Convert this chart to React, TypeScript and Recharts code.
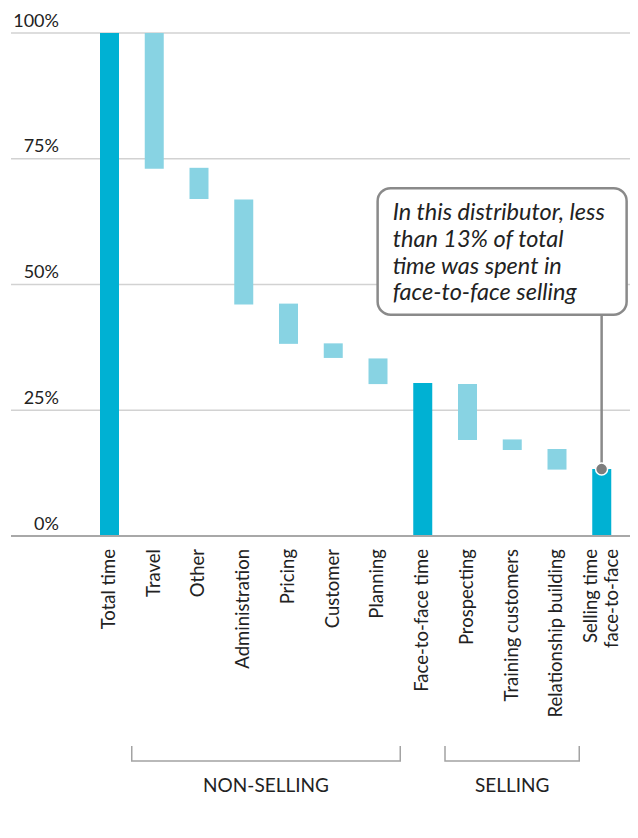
import {
  BarChart,
  Bar,
  XAxis,
  YAxis,
  CartesianGrid,
  Cell,
  ReferenceLine,
  ReferenceDot,
} from "recharts";

// waterfall: each bar runs from low to high (% of total time)
const categories = [
  "Total time",
  "Travel",
  "Other",
  "Administration",
  "Pricing",
  "Customer",
  "Planning",
  "Face-to-face time",
  "Prospecting",
  "Training customers",
  "Relationship building",
  "Selling time\nface-to-face",
];
const lows = [0, 73, 67, 46, 38.2, 35.4, 30.2, 0, 19.1, 17.1, 13.2, 0];
const highs = [100, 100, 73.2, 66.9, 46.2, 38.3, 35.3, 30.4, 30.2, 19.2, 17.3, 13.3];
const isTotal = [true, false, false, false, false, false, false, true, false, false, false, true];
const yTicks = [0, 25, 50, 75, 100];

const groups = [
  { label: "NON-SELLING", first: 1, count: 6 },
  { label: "SELLING", first: 8, count: 3 },
];

const calloutLines = [
  "In this distributor, less",
  "than 13% of total",
  "time was spent in",
  "face-to-face selling",
];
const calloutTop = 44; // % level where the leader line meets the box

const data = categories.map((name, i) => ({
  name,
  range: [lows[i], highs[i]],
}));

const W = 630;
const H = 830;
const MARGIN = { top: 25, right: 0, bottom: 12, left: 0 };
const Y_W = 3;
const PAD = { left: 76, right: 14 };
const BAND =
  (W - Y_W - MARGIN.left - MARGIN.right - PAD.left - PAD.right) / categories.length;

const DARK = "#00b1d3";
const LIGHT = "#88d3e3";
const TEXT = "#222";
const FONT = "Lato, 'Open Sans', sans-serif";

function XTick(props: any) {
  const { x, y, payload, index } = props;
  const lines = String(payload.value).split("\n");
  const offsets = lines.length === 1 ? [5.5] : [-4.5, 16];
  const group = groups.find((g) => g.first === index);
  return (
    <g>
      <g transform={`translate(${x},${y})`}>
        <text
          transform="rotate(-90)"
          textAnchor="end"
          fill={TEXT}
          fontSize={18.5}
          fontFamily={FONT}
        >
          {lines.map((l, i) => (
            <tspan key={i} x={0} y={offsets[i]}>
              {l}
            </tspan>
          ))}
        </text>
      </g>
      {group && (
        <g>
          <path
            d={`M${x - BAND / 2},${y + 197} V${y + 212} H${
              x - BAND / 2 + group.count * BAND
            } V${y + 197}`}
            fill="none"
            stroke="#a3a3a3"
            strokeWidth={1.5}
          />
          <text
            x={x - BAND / 2 + (group.count * BAND) / 2}
            y={y + 243}
            textAnchor="middle"
            fill={TEXT}
            fontSize={19}
            fontFamily={FONT}
          >
            {group.label}
          </text>
        </g>
      )}
    </g>
  );
}

function YTick(props: any) {
  const { y, payload } = props;
  return (
    <text
      x={51}
      y={y - 6.5}
      textAnchor="end"
      fill={TEXT}
      fontSize={18}
      fontFamily={FONT}
    >
      {payload.value}%
    </text>
  );
}

function CalloutBox(props: any) {
  const { cx, cy } = props;
  return (
    <g>
      <rect
        x={cx - 224}
        y={cy - 126.5}
        width={249}
        height={126.5}
        rx={13}
        ry={13}
        fill="#fff"
        stroke="#8a8a8a"
        strokeWidth={2.5}
      />
      <text
        fill={TEXT}
        fontSize={23.5}
        fontStyle="italic"
        fontFamily={FONT}
      >
        {calloutLines.map((l, i) => (
          <tspan key={i} x={cx - 209} y={cy - 94.5 + i * 26.7}>
            {l}
          </tspan>
        ))}
      </text>
    </g>
  );
}

export default function App() {
  const last = categories[categories.length - 1];
  return (
    <div style={{ width: W, height: H, fontFamily: FONT }}>
      <BarChart width={W} height={H} data={data} margin={MARGIN} barSize={19}>
        <CartesianGrid
          vertical={false}
          stroke="#d2d2d2"
          strokeWidth={1.3}
        />
        <XAxis
          dataKey="name"
          interval={0}
          padding={PAD}
          height={290}
          tickLine={false}
          tickSize={0}
          tickMargin={13}
          axisLine={{ stroke: "#a8a8a8", strokeWidth: 2 }}
          tick={<XTick />}
        />
        <YAxis
          width={Y_W}
          domain={[0, 100]}
          ticks={yTicks}
          axisLine={false}
          tickLine={false}
          tick={<YTick />}
        />
        <Bar dataKey="range" isAnimationActive={false}>
          {data.map((d, i) => (
            <Cell key={d.name} fill={isTotal[i] ? DARK : LIGHT} />
          ))}
        </Bar>
        <ReferenceLine
          segment={[
            { x: last, y: highs[highs.length - 1] },
            { x: last, y: calloutTop },
          ]}
          stroke="#8a8a8a"
          strokeWidth={2.5}
        />
        <ReferenceDot
          x={last}
          y={highs[highs.length - 1]}
          r={6}
          fill="#7d7d7d"
          stroke="#fff"
          strokeWidth={1.5}
        />
        <ReferenceDot x={last} y={calloutTop} shape={<CalloutBox />} />
      </BarChart>
    </div>
  );
}
